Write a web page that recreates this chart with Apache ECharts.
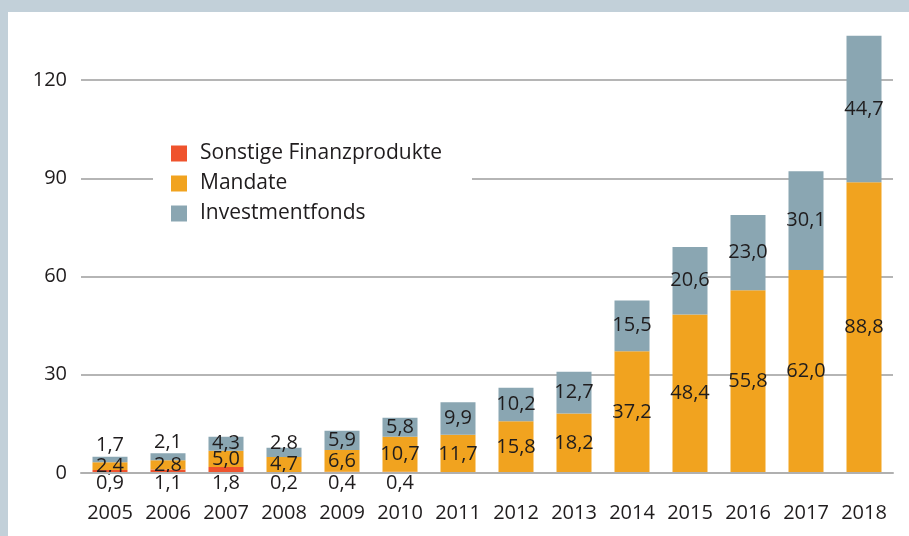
<!DOCTYPE html>
<html>
<head>
<meta charset="utf-8">
<script src="https://cdn.jsdelivr.net/npm/echarts@6/dist/echarts.min.js"></script>
<style>
    html, body { margin: 0; padding: 0; background: #fff; }
    #chart { width: 909px; height: 536px; }
</style>
</head>
<body>
<div id="chart"></div>
<script>
var years = ['2005', '2006', '2007', '2008', '2009', '2010', '2011', '2012', '2013', '2014', '2015', '2016', '2017', '2018']
var sonstige = [0.9, 1.1, 1.8, 0.2, 0.4, 0.4, 0, 0, 0, 0, 0, 0, 0, 0]
var mandate = [2.4, 2.8, 5.0, 4.7, 6.6, 10.7, 11.7, 15.8, 18.2, 37.2, 48.4, 55.8, 62.0, 88.8]
var investmentfonds = [1.7, 2.1, 4.3, 2.8, 5.9, 5.8, 9.9, 10.2, 12.7, 15.5, 20.6, 23.0, 30.1, 44.7]
var yTicks = [0, 30, 60, 90, 120]

var FONT = 'Open Sans'
var TEXT = '#1f1c1d'

function fmt(v) {
    return v.toFixed(1).replace('.', ',')
}

// small fonds values sit above their bar
function fondsData() {
    return investmentfonds.map(function(v, i) {
        if (v >= 3) return v
        return {
            value: v,
            label: { position: 'top', distance: 1, offset: i == 3 ? [0, 7] : [0, 0] }
        }
    })
}

var labelBase = {
    show: true,
    color: TEXT,
    fontFamily: FONT,
    fontSize: 20,
    formatter: function(p) { return p.value ? fmt(p.value) : '' }
}

var chart = echarts.init(document.getElementById('chart'))
chart.setOption({
    animation: false,
    backgroundColor: '#fff',
    graphic: [
        { type: 'rect', left: 0, top: 0, shape: { width: 909, height: 12 }, style: { fill: '#c2d0d9' }, z: 100 },
        { type: 'rect', left: 0, top: 0, shape: { width: 8, height: 536 }, style: { fill: '#c2d0d9' }, z: 100 }
    ],
    grid: { left: 81, right: 16, top: 80, bottom: 63 },
    legend: {
        orient: 'vertical',
        left: 153,
        top: 138,
        padding: [5, 30, 5, 18],
        backgroundColor: '#fff',
        itemWidth: 16,
        itemHeight: 16,
        itemGap: 9,
        icon: 'rect',
        z: 5,
        textStyle: { color: TEXT, fontFamily: FONT, fontSize: 21, lineHeight: 20, padding: [0, 0, 0, 8] },
        data: ['Sonstige Finanzprodukte', 'Mandate', 'Investmentfonds']
    },
    xAxis: {
        type: 'category',
        data: years,
        axisLine: { show: true, lineStyle: { color: '#b0b0b0', width: 2 } },
        axisTick: { show: false },
        axisLabel: { color: TEXT, fontFamily: FONT, fontSize: 20, margin: 30, interval: 0 },
        z: 3
    },
    yAxis: {
        type: 'value',
        min: yTicks[0],
        max: yTicks[yTicks.length - 1],
        interval: 30,
        axisLine: { show: false },
        axisTick: { show: false },
        axisLabel: { color: TEXT, fontFamily: FONT, fontSize: 20, margin: 14 },
        splitLine: { lineStyle: { color: '#9d9d9d', width: 1.5 } }
    },
    series: [
        {
            name: 'Sonstige Finanzprodukte',
            type: 'bar',
            stack: 'total',
            barWidth: 35,
            clip: false,
            itemStyle: { color: '#ef532d' },
            label: Object.assign({}, labelBase, { position: 'bottom', distance: 0 }),
            data: sonstige
        },
        {
            name: 'Mandate',
            type: 'bar',
            stack: 'total',
            barWidth: 35,
            clip: false,
            itemStyle: { color: '#f1a31f' },
            label: Object.assign({}, labelBase, { position: 'inside' }),
            data: mandate
        },
        {
            name: 'Investmentfonds',
            type: 'bar',
            stack: 'total',
            barWidth: 35,
            clip: false,
            itemStyle: { color: '#8aa6b2' },
            label: Object.assign({}, labelBase, { position: 'inside' }),
            data: fondsData()
        }
    ]
})
</script>
</body>
</html>
